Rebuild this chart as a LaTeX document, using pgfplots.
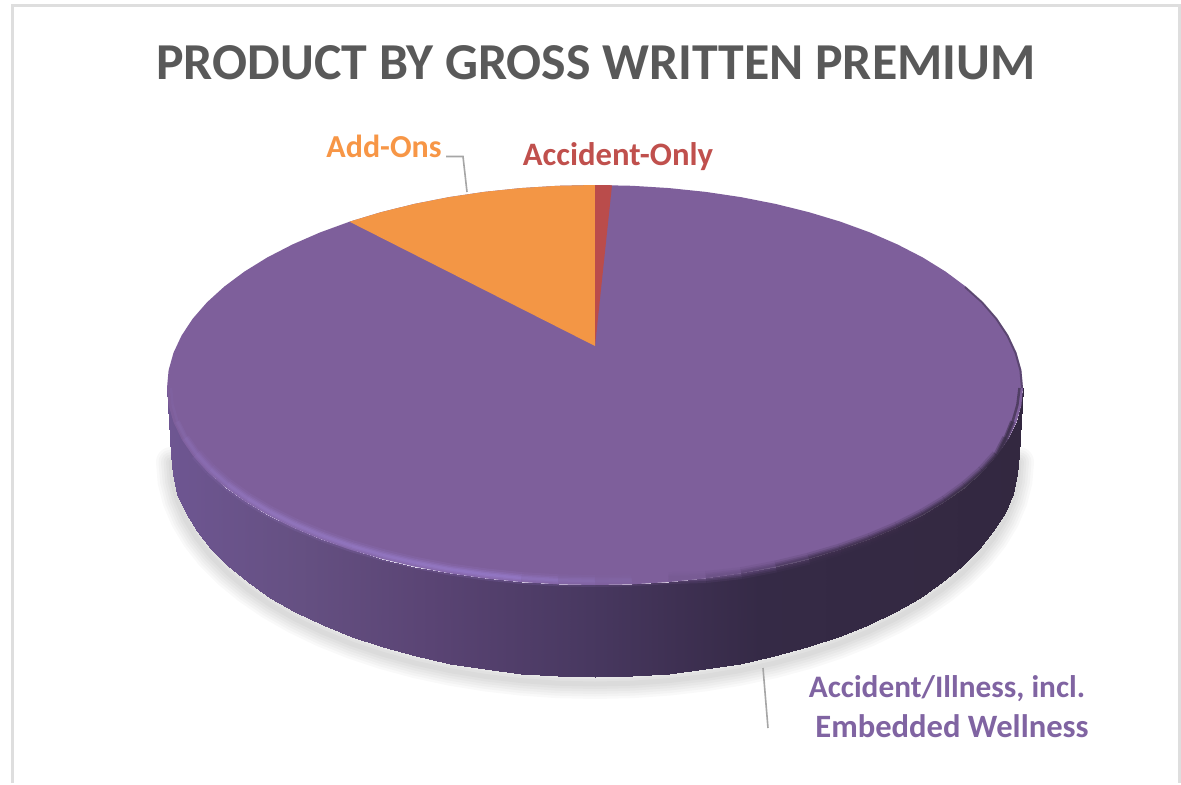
\documentclass[border=0pt]{standalone}
\usepackage{pgfplots}
\usepackage{pgfplotstable}
\usepackage{fontspec}
\setmainfont{Carlito}
\pgfplotsset{compat=1.18}
\pgfplotsset{
  colormap={rimcm}{rgb255(167pt)=(127,97,158); rgb255(190pt)=(136,108,176); rgb255(250pt)=(146,118,190); rgb255(500pt)=(150,122,200); rgb255(590pt)=(134,106,172); rgb255(650pt)=(126,95,155); rgb255(700pt)=(118,90,146); rgb255(760pt)=(92,70,116); rgb255(820pt)=(64,48,80); rgb255(1023pt)=(50,40,62)},
  colormap={sidecm}{rgb255(167pt)=(110,86,146); rgb255(300pt)=(101,80,130); rgb255(430pt)=(90,68,116); rgb255(590pt)=(72,56,96); rgb255(680pt)=(62,48,82); rgb255(760pt)=(53,42,70); rgb255(1023pt)=(51,40,64)},
}
\definecolor{facep}{RGB}{126,95,155}
\definecolor{orangep}{RGB}{243,150,69}
\definecolor{redp}{RGB}{186,76,75}
\definecolor{titlec}{RGB}{89,89,89}
\definecolor{lorange}{RGB}{247,150,70}
\definecolor{lred}{RGB}{192,80,77}
\definecolor{lpurple}{RGB}{128,100,162}
\definecolor{leader}{RGB}{166,166,166}
\definecolor{frame}{RGB}{222,222,222}
% top face outline
\pgfplotstableread{
x y
167 388
168.6 370.3
173.5 352.8
181.6 335.5
192.8 318.6
207.1 302.2
224.4 286.5
244.4 271.6
267.2 257.5
292.4 244.5
319.9 232.5
349.5 221.7
381 212.2
414.1 204
448.6 197.2
484.2 191.9
520.7 188.1
557.7 185.8
595 185
632.3 185.8
669.3 188.1
705.8 191.9
741.4 197.2
775.9 204
809 212.2
840.5 221.7
870.1 232.5
897.6 244.5
922.8 257.5
945.6 271.6
965.6 286.5
982.9 302.2
997.2 318.6
1008.4 335.5
1016.5 352.8
1021.4 370.3
1023 388
1021.4 405.2
1016.5 422.2
1008.4 439
997.2 455.4
982.9 471.3
965.6 486.5
945.6 501
922.8 514.6
897.6 527.3
870.1 538.9
840.5 549.4
809 558.6
775.9 566.5
741.4 573.1
705.8 578.3
669.3 582
632.3 584.3
595 585
557.7 584.3
520.7 582
484.2 578.3
448.6 573.1
414.1 566.5
381 558.6
349.5 549.4
319.9 538.9
292.4 527.3
267.2 514.6
244.4 501
224.4 486.5
207.1 471.3
192.8 455.4
181.6 439
173.5 422.2
168.6 405.2
167 388
}\topface
% side wall: pairs of top edge and bottom edge points
\pgfplotstableread{
x y
167 388
171 455
168.6 405.2
172.6 474.4
173.5 422.2
177.4 493.5
181.6 439
185.5 512.5
192.8 455.4
196.6 530.9
207.1 471.3
210.7 548.8
224.4 486.5
227.8 566
244.4 501
247.7 582.3
267.2 514.6
270.2 597.7
292.4 527.3
295.2 612
319.9 538.9
322.5 625.1
349.5 549.4
351.8 636.9
381 558.6
383 647.3
414.1 566.5
415.8 656.2
448.6 573.1
450 663.6
484.2 578.3
485.3 669.4
520.7 582
521.4 673.6
557.7 584.3
558 676.2
595 585
595 677
632.3 584.3
632 676.2
669.3 582
668.6 673.6
705.8 578.3
704.7 669.4
741.4 573.1
740 663.6
775.9 566.5
774.2 656.2
809 558.6
807 647.3
840.5 549.4
838.2 636.9
870.1 538.9
867.5 625.1
897.6 527.3
894.8 612
922.8 514.6
919.8 597.7
945.6 501
942.3 582.3
965.6 486.5
962.2 566
982.9 471.3
979.3 548.8
997.2 455.4
993.4 530.9
1008.4 439
1004.5 512.5
1016.5 422.2
1012.6 493.5
1021.4 405.2
1017.4 474.4
1023 388
1019 455
}\sidewall
% lower outer edge, for the soft shadow
\pgfplotstableread{
x y
171 455
172.6 474.4
177.4 493.5
185.5 512.5
196.6 530.9
210.7 548.8
227.8 566
247.7 582.3
270.2 597.7
295.2 612
322.5 625.1
351.8 636.9
383 647.3
415.8 656.2
450 663.6
485.3 669.4
521.4 673.6
558 676.2
595 677
632 676.2
668.6 673.6
704.7 669.4
740 663.6
774.2 656.2
807 647.3
838.2 636.9
867.5 625.1
894.8 612
919.8 597.7
942.3 582.3
962.2 566
979.3 548.8
993.4 530.9
1004.5 512.5
1012.6 493.5
1017.4 474.4
1019 455
}\loweredge
% bevelled rim of the top face
\pgfplotstableread{
x y
171 388
172.6 404.8
177.4 421.5
185.5 437.9
196.6 454
210.7 469.6
227.8 484.5
247.7 498.7
270.2 512.1
295.2 524.5
322.5 535.8
351.8 546.1
383 555.1
415.8 562.9
450 569.4
485.3 574.4
521.4 578.1
558 580.3
595 581
632 580.3
668.6 578.1
705.8 577
741.4 573.1
775.9 566.5
809 558.6
840.5 549.4
870.1 538.9
897.6 527.3
922.8 514.6
945.6 501
965.6 486.5
982.9 471.3
997.2 455.4
1006 438
1012.6 421.5
1017.4 404.8
1019.5 388
}\rim
\begin{document}
\begin{tikzpicture}
\begin{axis}[
  hide axis, scale only axis, width=1181pt, height=783pt,
  xmin=0, xmax=1181, ymin=0, ymax=783, y dir=reverse, clip=false,
  point meta min=167, point meta max=1023,
]
% page extent
\addplot[draw=none, fill=white] coordinates {(0,0) (1181,0) (1181,783) (0,783)} -- cycle;
% frame
\addplot[frame, line width=3pt] coordinates {(12.5,783) (12.5,5.5) (1179,5.5) (1179,783)};
% soft shadow
\addplot[black, opacity=0.024, line width=30pt, yshift=-7pt, line cap=round] table {\loweredge};
\addplot[black, opacity=0.024, line width=25pt, yshift=-7pt, line cap=round] table {\loweredge};
\addplot[black, opacity=0.024, line width=20pt, yshift=-7pt, line cap=round] table {\loweredge};
\addplot[black, opacity=0.024, line width=15pt, yshift=-7pt, line cap=round] table {\loweredge};
\addplot[black, opacity=0.024, line width=10pt, yshift=-7pt, line cap=round] table {\loweredge};
\addplot[black, opacity=0.024, line width=5pt, yshift=-7pt, line cap=round] table {\loweredge};
% side wall
\addplot[patch, patch type=rectangle, shader=interp, point meta=x, colormap name=sidecm, table/row sep=\\,
  patch table={0 1 3 2\\ 2 3 5 4\\ 4 5 7 6\\ 6 7 9 8\\ 8 9 11 10\\ 10 11 13 12\\ 12 13 15 14\\ 14 15 17 16\\ 16 17 19 18\\ 18 19 21 20\\ 20 21 23 22\\ 22 23 25 24\\ 24 25 27 26\\ 26 27 29 28\\ 28 29 31 30\\ 30 31 33 32\\ 32 33 35 34\\ 34 35 37 36\\ 36 37 39 38\\ 38 39 41 40\\ 40 41 43 42\\ 42 43 45 44\\ 44 45 47 46\\ 46 47 49 48\\ 48 49 51 50\\ 50 51 53 52\\ 52 53 55 54\\ 54 55 57 56\\ 56 57 59 58\\ 58 59 61 60\\ 60 61 63 62\\ 62 63 65 64\\ 64 65 67 66\\ 66 67 69 68\\ 68 69 71 70\\ 70 71 73 72\\}] table {\sidewall};
% top face
\addplot[draw=none, fill=facep] table {\topface} -- cycle;
% Add-Ons slice
\addplot[draw=none, fill=orangep] coordinates {(595,346) (349.5,221.7) (381,212.2) (414.1,204) (448.6,197.2) (484.2,191.9) (520.7,188.1) (557.7,185.8) (595,185)} -- cycle;
% Accident-Only slice
\addplot[draw=none, fill=redp] coordinates {(595,346) (595,185) (603,185) (612,185.3)} -- cycle;
% rim layers, tapering towards both ends
\addplot[mesh, point meta=x, line width=12pt, opacity=0.18, colormap name=rimcm, restrict y to domain=450:600] table {\rim};
\addplot[mesh, point meta=x, line width=8pt, opacity=0.3, colormap name=rimcm, restrict y to domain=425:600] table {\rim};
\addplot[mesh, point meta=x, line width=5pt, opacity=0.45, colormap name=rimcm, restrict y to domain=405:600] table {\rim};
\addplot[mesh, point meta=x, line width=2.5pt, opacity=0.6, colormap name=rimcm] table {\rim};
% thin dark fringe on the right
\addplot[color={rgb,255:red,50;green,40;blue,62}, line width=2pt, opacity=0.45] coordinates {(1022,388) (1020.4,370.3) (1015.5,352.8) (1007.4,335.5) (996.2,318.6) (982,302.2) (965,287)};
% leaders
\addplot[leader, line width=1.6pt] coordinates {(446,156.5) (463,156.5) (467,192)};
\addplot[leader, line width=1.6pt] coordinates {(763,668) (768,728)};
% text
\node[text=titlec, font=\fontsize{51.8}{52}\selectfont\bfseries] at (axis cs:596,63) {PRODUCT BY GROSS WRITTEN PREMIUM};
\node[text=lorange, font=\fontsize{32}{32}\selectfont\bfseries] at (axis cs:384,146) {Add-Ons};
\node[text=lred, font=\fontsize{32.7}{33}\selectfont\bfseries] at (axis cs:618,156.5) {Accident-Only};
\node[text=lpurple, font=\fontsize{31.3}{32}\selectfont\bfseries] at (axis cs:947,689) {Accident/Illness, incl.};
\node[text=lpurple, font=\fontsize{32.6}{33}\selectfont\bfseries] at (axis cs:952,726) {Embedded Wellness};
\end{axis}
\end{tikzpicture}
\end{document}
